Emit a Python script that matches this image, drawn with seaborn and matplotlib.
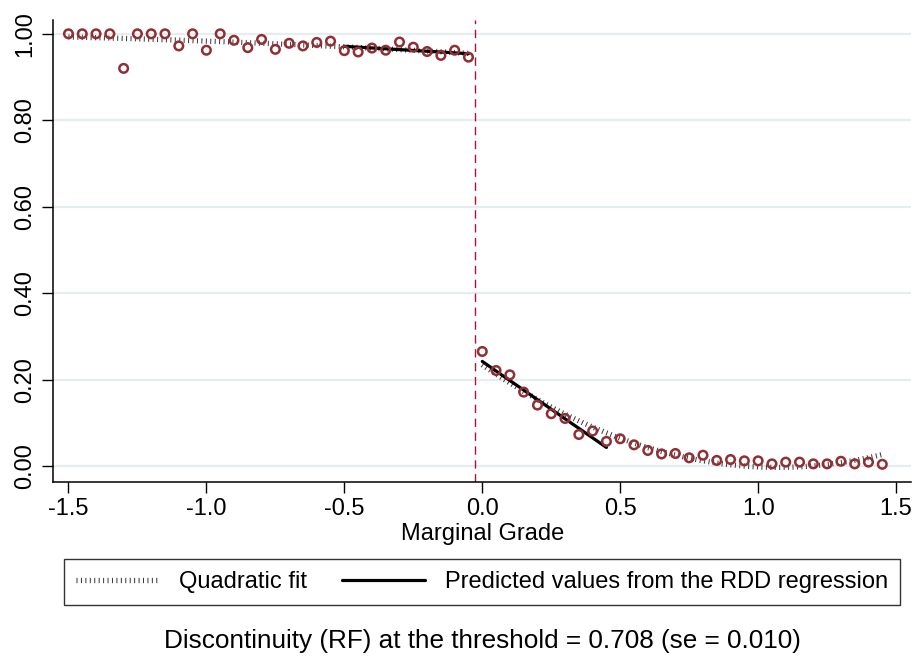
import matplotlib
matplotlib.use("Agg")
import matplotlib.pyplot as plt
import seaborn as sns

# ------------------------------
# DATA (binned means)
# ------------------------------

x_left = [-1.50, -1.45, -1.40, -1.35, -1.30, -1.25, -1.20, -1.15, -1.10, -1.05,
          -1.00, -0.95, -0.90, -0.85, -0.80, -0.75, -0.70, -0.65, -0.60, -0.55,
          -0.50, -0.45, -0.40, -0.35, -0.30, -0.25, -0.20, -0.15, -0.10, -0.05]
y_left = [1.000, 1.000, 1.000, 1.000, 0.920, 1.000, 1.000, 1.000, 0.972, 1.000,
          0.962, 1.000, 0.985, 0.968, 0.987, 0.964, 0.978, 0.972, 0.980, 0.983,
          0.961, 0.958, 0.967, 0.962, 0.981, 0.969, 0.959, 0.950, 0.962, 0.946]

x_right = [0.00, 0.05, 0.10, 0.15, 0.20, 0.25, 0.30, 0.35, 0.40, 0.45,
           0.50, 0.55, 0.60, 0.65, 0.70, 0.75, 0.80, 0.85, 0.90, 0.95,
           1.00, 1.05, 1.10, 1.15, 1.20, 1.25, 1.30, 1.35, 1.40, 1.45]
y_right = [0.265, 0.221, 0.211, 0.171, 0.141, 0.121, 0.110, 0.073, 0.081, 0.057,
           0.063, 0.049, 0.036, 0.028, 0.029, 0.019, 0.025, 0.013, 0.015, 0.012,
           0.012, 0.005, 0.009, 0.009, 0.005, 0.005, 0.011, 0.005, 0.009, 0.004]

# RDD regression predicted values (endpoints of the local linear fits)
rdd_left_x = [-0.50, -0.05]
rdd_left_y = [0.971, 0.954]
rdd_right_x = [0.00, 0.45]
rdd_right_y = [0.242, 0.043]

threshold = -0.025
x_ticks = [-1.5, -1.0, -0.5, 0.0, 0.5, 1.0, 1.5]
y_ticks = [0.0, 0.2, 0.4, 0.6, 0.8, 1.0]
legend_labels = ["Quadratic fit", "Predicted values from the RDD regression"]
caption = "Discontinuity (RF) at the threshold = 0.708 (se = 0.010)"

# ------------------------------
# STYLE
# ------------------------------

sns.set_style("white")
plt.rcParams["font.family"] = ["Liberation Sans", "DejaVu Sans"]
plt.rcParams["axes.unicode_minus"] = False
plt.rcParams["text.color"] = "black"
plt.rcParams["axes.labelcolor"] = "black"
plt.rcParams["xtick.color"] = "black"
plt.rcParams["ytick.color"] = "black"

point_col = "#903035"
qfit_col = "#3a3a3a"
qfit_kws = dict(color=qfit_col, lw=3.8, ls=(0, (0.19, 0.65)),
                solid_capstyle="butt", dash_capstyle="butt")

fig, ax = plt.subplots(figsize=(9.14, 6.57), dpi=100)
fig.subplots_adjust(left=0.0583, right=0.997, top=0.9696, bottom=0.2668)

ax.axvline(threshold, color="#a8143a", lw=1.0, dashes=(6, 4), zorder=1)

# quadratic fits on each side
sns.regplot(x=x_left, y=y_left, order=2, scatter=False, ci=None, ax=ax,
            line_kws=dict(zorder=2, **qfit_kws))
qfit_line = ax.lines[-1]
sns.regplot(x=x_right, y=y_right, order=2, scatter=False, ci=None, ax=ax,
            line_kws=dict(zorder=2, **qfit_kws))

# RDD lines
sns.lineplot(x=rdd_left_x, y=rdd_left_y, color="black", lw=2.3, ax=ax, zorder=2)
rdd_line = ax.lines[-1]
sns.lineplot(x=rdd_right_x, y=rdd_right_y, color="black", lw=2.3, ax=ax, zorder=2)

# binned points
sns.scatterplot(x=x_left + x_right, y=y_left + y_right, ax=ax, marker="o",
                s=38, color=point_col, facecolors="none", edgecolor=point_col,
                linewidth=1.8, zorder=3)

# ------------------------------
# AXES
# ------------------------------

ax.set_xlim(-1.555, 1.555)
ax.set_ylim(-0.0363, 1.032)
ax.set_xticks(x_ticks)
ax.set_xticklabels([f"{t:.1f}" for t in x_ticks])
ax.set_yticks(y_ticks)
ax.set_yticklabels([f"{t:.2f}" for t in y_ticks], rotation=90, va="center")
ax.tick_params(axis="both", direction="out", length=8, width=1,
               labelsize=17, color="black", pad=4)
ax.tick_params(axis="x", bottom=True)
ax.tick_params(axis="y", left=True)

ax.grid(axis="y", color="#e6edf0", lw=1.6)
ax.grid(axis="x", visible=False)
ax.set_axisbelow(True)

for side in ["top", "right"]:
    ax.spines[side].set_visible(False)
for side in ["left", "bottom"]:
    ax.spines[side].set_color("black")
    ax.spines[side].set_linewidth(1.1)

ax.set_xlabel("Marginal Grade", fontsize=17, labelpad=2)
ax.set_ylabel("")

leg = ax.legend([qfit_line, rdd_line], legend_labels,
                loc="center", bbox_to_anchor=(0.5, -0.217), ncol=2,
                fontsize=17, frameon=True, fancybox=False, edgecolor="black",
                handlelength=3.5, handletextpad=0.85, columnspacing=1.5,
                borderpad=0.5)
leg.get_frame().set_linewidth(1.0)

ax.text(0.5, -0.345, caption, transform=ax.transAxes, ha="center",
        va="center", fontsize=18.8)

plt.savefig("out.png", dpi=100)
